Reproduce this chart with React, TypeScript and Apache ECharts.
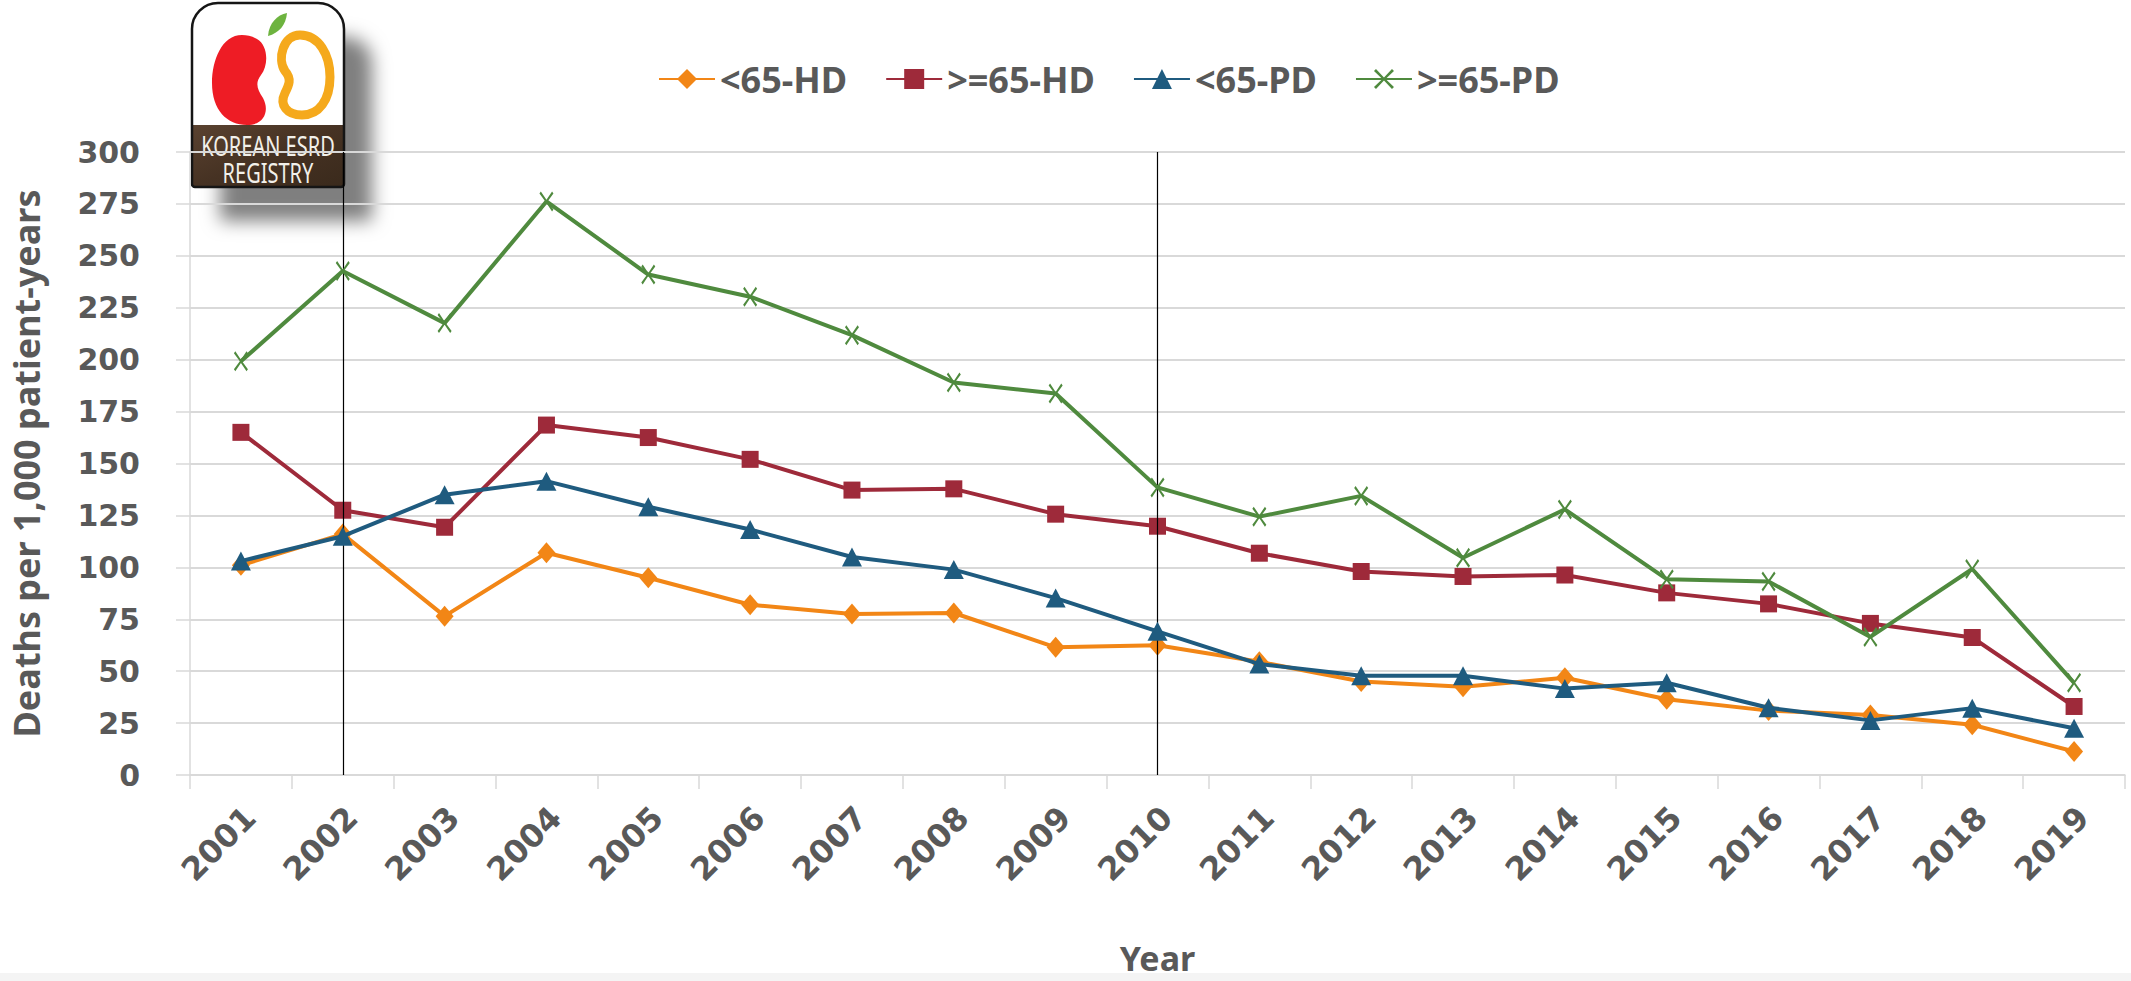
import React, { useEffect, useRef } from "react";
import * as echarts from "echarts";

const years = ["2001","2002","2003","2004","2005","2006","2007","2008","2009","2010","2011","2012","2013","2014","2015","2016","2017","2018","2019"];
const seriesNames = ["<65-HD", ">=65-HD", "<65-PD", ">=65-PD"];
const hdUnder65 = [101, 116, 76.5, 107, 95, 82, 77.5, 78, 61.5, 62.5, 54.5, 45, 42.5, 46.8, 36.5, 31, 28.9, 24.2, 11.3];
const hdOver65 = [165, 127.5, 119.3, 168.5, 162.5, 152, 137.2, 137.8, 125.6, 119.8, 106.8, 98, 95.6, 96.3, 87.7, 82.4, 73, 66.2, 33];
const pdUnder65 = [103, 115, 135, 141.5, 129.2, 118.2, 105, 98.9, 85.2, 69.2, 53.4, 47.8, 47.8, 41.6, 44.4, 32.4, 26.3, 32.2, 22.5];
const pdOver65 = [199.2, 242.7, 217.6, 276.2, 241, 230.3, 211.8, 189, 183.7, 138.5, 124.4, 134.4, 104.6, 127.9, 94.3, 93.2, 66.5, 99.2, 44.4];
const yTicks = { min: 0, max: 300, interval: 25 };
const markedYears = ["2002", "2010"];

const colors = ["#F28616", "#9E2A3A", "#1F5B7F", "#4F8A3E"];
const TEXT = "#595959";
const GRID = "#D9D9D9";
const FONT = "DejaVu Sans";
const TITLE_FONT = "Noto Sans";

const X_SYMBOL = "path://M0,1L1,0L5,4.2L9,0L10,1L5.8,5L10,9L9,10L5,5.8L1,10L0,9L4.2,5Z";

let registered = false;
function registerShapes() {
  if (registered) return;
  registered = true;
  echarts.graphic.registerShape(
    "redKidney",
    echarts.graphic.extendPath(
      "M30 0 C10 0 0 25 0 48 C0 75 15 90 35 90 C52 90 58 76 51 63 C45 54 43 48 49 40 C57 30 56 10 45 4 C40 1 35 0 30 0 Z",
      {}
    )
  );
  echarts.graphic.registerShape(
    "orangeKidney",
    echarts.graphic.extendPath(
      "M26 0 C45 0 56 20 56 42 C56 65 45 80 28 80 C13 80 5 70 11 58 C15 50 18 44 11 36 C3 24 9 0 26 0 Z",
      {}
    )
  );
  echarts.graphic.registerShape(
    "leaf",
    echarts.graphic.extendPath("M0 23 C1 10 9 2 19 0 C18 12 11 20 0 23 Z", {})
  );
}

function makeSeries(i: number, data: number[], symbol: string, size: number | number[]) {
  const s: any = {
    name: seriesNames[i],
    type: "line",
    data,
    symbol,
    symbolSize: size,
    showSymbol: true,
    lineStyle: { color: colors[i], width: 4 },
    itemStyle: { color: colors[i], borderWidth: 0 },
    emphasis: { disabled: true },
    z: 3 + i,
  };
  return s;
}

export default function App() {
  const ref = useRef<HTMLDivElement>(null);
  useEffect(() => {
    if (!ref.current) return;
    registerShapes();
    const chart = echarts.init(ref.current, undefined, { renderer: "svg" });
    const s0 = makeSeries(0, hdUnder65, "diamond", [18, 21]);
    s0.markLine = {
      silent: true,
      symbol: ["none", "none"],
      label: { show: false },
      lineStyle: { color: "#000", width: 1.2, type: "solid" },
      data: markedYears.map((y) => ({ xAxis: y })),
    };
    const option: any = {
      animation: false,
      backgroundColor: "#ffffff",
      textStyle: { fontFamily: FONT },
      legend: {
        data: seriesNames,
        left: 653,
        top: 56,
        itemWidth: 56,
        itemHeight: 25,
        itemGap: 38,
        textStyle: { fontSize: 36, fontWeight: "bold", color: TEXT, fontFamily: TITLE_FONT },
      },
      grid: { left: 190, right: 6, top: 152, bottom: 206, containLabel: false },
      xAxis: {
        type: "category",
        data: years,
        boundaryGap: true,
        axisLine: { lineStyle: { color: GRID, width: 1.5 } },
        axisTick: { show: true, length: 14, lineStyle: { color: GRID, width: 1.5 } },
        axisLabel: {
          interval: 0,
          rotate: 45,
          margin: 28,
          verticalAlign: "top",
          lineHeight: 26,
          fontSize: 32,
          fontWeight: "bold",
          color: TEXT,
          fontFamily: FONT,
        },
        name: "Year",
        nameLocation: "middle",
        nameGap: 166,
        nameTextStyle: { fontSize: 34, fontWeight: "bold", color: TEXT, fontFamily: TITLE_FONT },
      },
      yAxis: {
        type: "value",
        min: yTicks.min,
        max: yTicks.max,
        interval: yTicks.interval,
        axisLine: { show: true, lineStyle: { color: GRID, width: 1.5 } },
        axisTick: { show: true, length: 14, lineStyle: { color: GRID, width: 1.5 } },
        splitLine: { show: true, lineStyle: { color: GRID, width: 2 } },
        axisLabel: { fontSize: 30, fontWeight: "bold", color: TEXT, margin: 50, fontFamily: FONT },
        name: "Deaths per 1,000 patient-years",
        nameLocation: "middle",
        nameRotate: 90,
        nameGap: 146,
        nameTextStyle: { fontSize: 36, fontWeight: "bold", color: TEXT, fontFamily: TITLE_FONT },
      },
      series: [
        s0,
        makeSeries(1, hdOver65, "rect", 17),
        makeSeries(2, pdUnder65, "triangle", [20, 19]),
        makeSeries(3, pdOver65, X_SYMBOL, [14, 20]),
      ],
      graphic: [
        {
          type: "rect",
          left: 0,
          top: 973,
          shape: { width: 2131, height: 8 },
          style: { fill: "#F4F4F4" },
          silent: true,
        },
        {
          type: "group",
          x: 192,
          y: 3,
          z: 100,
          children: [
            {
              type: "rect",
              shape: { x: 0, y: 0, width: 152, height: 184, r: [26, 26, 3, 3] },
              style: {
                fill: "#ffffff",
                shadowBlur: 18,
                shadowColor: "rgba(0,0,0,0.5)",
                shadowOffsetX: 28,
                shadowOffsetY: 34,
              },
            },
            {
              type: "rect",
              shape: { x: 0, y: 122, width: 152, height: 62, r: [0, 0, 3, 3] },
              style: {
                fill: new echarts.graphic.LinearGradient(0, 0, 1, 1, [
                  { offset: 0, color: "#5a4230" },
                  { offset: 0.5, color: "#463223" },
                  { offset: 1, color: "#3a2a1c" },
                ]),
              },
            },
            {
              type: "redKidney",
              x: 20,
              y: 32,
              style: { fill: "#EE1C25" },
            },
            {
              type: "orangeKidney",
              x: 82,
              y: 32,
              style: { fill: "none", stroke: "#F5A91C", lineWidth: 9 },
            },
            {
              type: "leaf",
              x: 76,
              y: 10,
              style: { fill: "#6DB33F" },
            },
            {
              type: "text",
              x: 76,
              y: 142,
              scaleY: 1.4,
              style: {
                text: "KOREAN ESRD",
                fill: "#F2F0EA",
                font: "20px 'Noto Sans'",
                textAlign: "center",
                textVerticalAlign: "middle",
              },
            },
            {
              type: "text",
              x: 76,
              y: 169,
              scaleY: 1.4,
              style: {
                text: "REGISTRY",
                fill: "#F2F0EA",
                font: "20px 'Noto Sans'",
                textAlign: "center",
                textVerticalAlign: "middle",
              },
            },
            {
              type: "rect",
              shape: { x: 0, y: 0, width: 152, height: 184, r: [26, 26, 3, 3] },
              style: { fill: "none", stroke: "#151515", lineWidth: 2.5 },
            },
          ],
        },
      ],
    };
    chart.setOption(option);
    return () => chart.dispose();
  }, []);
  return (
    <div
      ref={ref}
      style={{ position: "fixed", left: 0, top: 0, width: 2131, height: 981, background: "#fff" }}
    />
  );
}
